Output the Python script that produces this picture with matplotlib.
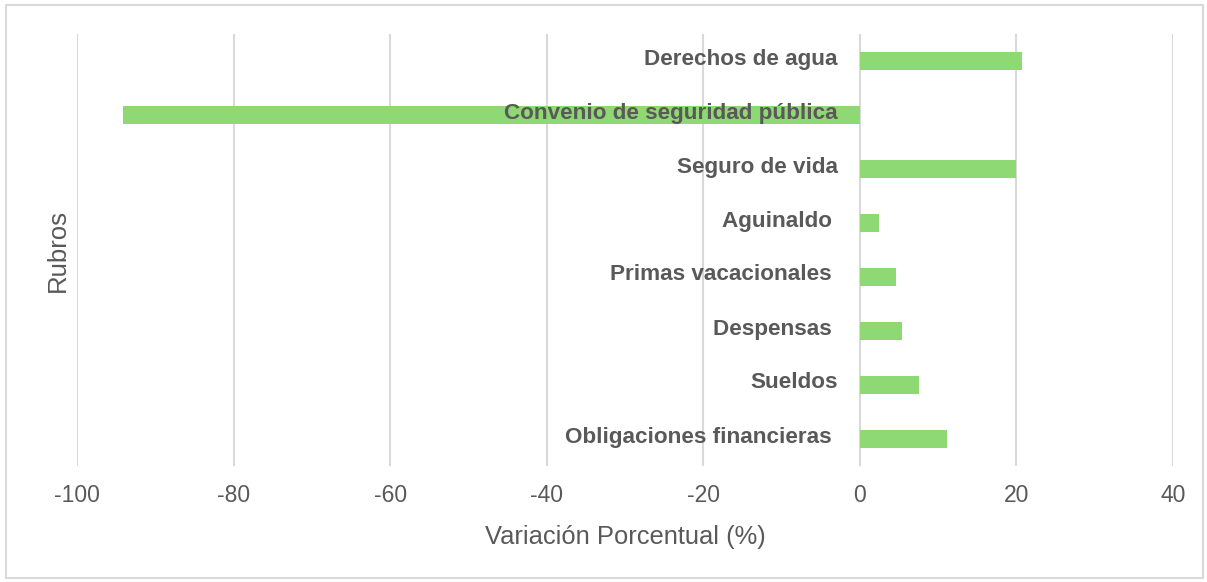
import matplotlib
matplotlib.use('Agg')
import matplotlib.pyplot as plt
import matplotlib.patches as mpatches
import matplotlib.transforms as mtransforms

# ── Data ─────────────────────────────────────────────────────────────────────
rubros = [
    'Obligaciones financieras ',
    'Sueldos',
    'Despensas ',
    'Primas vacacionales ',
    'Aguinaldo ',
    'Seguro de vida',
    'Convenio de seguridad pública',
    'Derechos de agua',
]
variacion = [11.1, 7.5, 5.4, 4.6, 2.45, 19.9, -94.1, 20.7]

x_ticks = [-100, -80, -60, -40, -20, 0, 20, 40]

# ── Style ────────────────────────────────────────────────────────────────────
TEXT = '#595959'
GRID = '#d9d9d9'
BAR = '#8fd974'

plt.rcParams['font.family'] = ['Liberation Sans', 'DejaVu Sans']

fig = plt.figure(figsize=(12.07, 5.82), dpi=100)
ax = fig.add_axes([77 / 1207, 1 - 466 / 582, (1173 - 77) / 1207, (466 - 34) / 582])

ypos = list(range(len(rubros)))
ax.barh(ypos, variacion, height=0.35, color=BAR, zorder=3)

ax.set_xlim(-100, 40)
ax.set_ylim(-0.5, len(rubros) - 0.5)
ax.set_xticks(x_ticks)
ax.set_xticklabels([str(t) for t in x_ticks])
ax.set_yticks([])
ax.tick_params(axis='x', length=0, pad=13, labelsize=16.5, labelcolor=TEXT)
ax.grid(axis='x', color=GRID, linewidth=1.5, zorder=0)
for s in ax.spines.values():
    s.set_visible(False)

# category labels next to the zero line
trans = mtransforms.offset_copy(ax.transData, fig=fig, x=-22, y=2, units='dots')
for y, lab in zip(ypos, rubros):
    ax.text(0, y, lab, transform=trans, ha='right', va='center',
            fontsize=16.2, fontweight='bold', color=TEXT, zorder=4)

ax.set_xlabel('Variación Porcentual (%)', fontsize=18.4, color=TEXT)
ax.set_ylabel('Rubros', fontsize=18.5, color=TEXT)
ax.xaxis.set_label_coords(0.5, (466 - 537) / 432)
ax.xaxis.label.set_va('center')
ax.yaxis.set_label_coords((58 - 77) / 1096, 0.5)
ax.yaxis.label.set_va('center')

# chart border
fig.patches.append(mpatches.Rectangle(
    (6 / 1207, 4 / 582), 1197 / 1207, 573 / 582, transform=fig.transFigure,
    fill=False, edgecolor=GRID, linewidth=1.5))

fig.savefig('out.png', dpi=100)
